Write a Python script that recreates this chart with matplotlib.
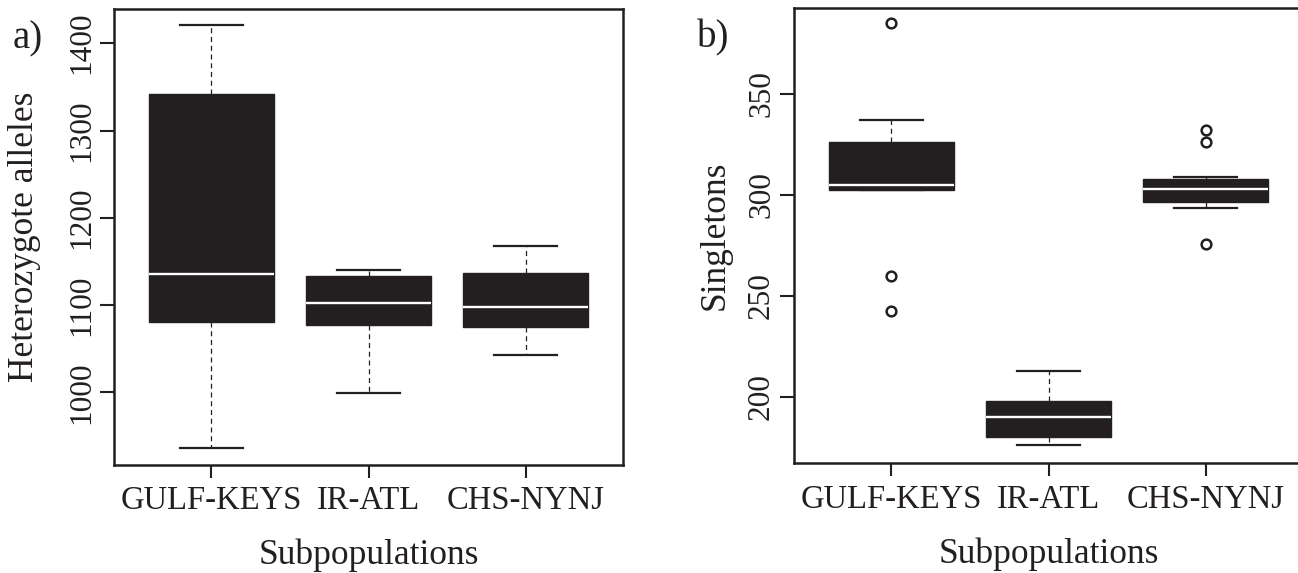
import matplotlib
matplotlib.use("Agg")
import matplotlib.pyplot as plt

plt.rcParams['font.family'] = ['Liberation Serif', 'DejaVu Serif']

groups = ["GULF-KEYS", "IR-ATL", "CHS-NYNJ"]

# a) heterozygote alleles
het_whislo = [936, 999, 1043]
het_q1 = [1081, 1077, 1075]
het_med = [1136, 1103, 1098]
het_q3 = [1342, 1133, 1137]
het_whishi = [1421, 1140, 1168]
het_fliers = [[], [], []]

# b) singletons
sing_whislo = [302.3, 176, 293.5]
sing_q1 = [302.3, 180, 296.6]
sing_med = [305, 190.1, 303]
sing_q3 = [326.2, 198, 307.7]
sing_whishi = [337.3, 212.7, 308.9]
sing_fliers = [[385, 259.7, 242.6], [], [332.2, 326.4, 275.5]]

BOX = '#231f20'


def make_stats(lo, q1, med, q3, hi, fl):
    stats = []
    for i in range(len(groups)):
        stats.append(dict(whislo=lo[i], q1=q1[i], med=med[i], q3=q3[i],
                          whishi=hi[i], fliers=fl[i], label=groups[i]))
    return stats


def draw(ax, stats, ylim, yticks, ylabel, ylab_x):
    ax.bxp(stats, positions=[1, 2, 3], widths=0.8, capwidths=0.4,
           patch_artist=True, showfliers=True,
           boxprops=dict(facecolor=BOX, edgecolor=BOX, linewidth=1.0),
           medianprops=dict(color='white', linewidth=1.7),
           whiskerprops=dict(color=BOX, linewidth=0.9, linestyle=(0, (4, 3))),
           capprops=dict(color=BOX, linewidth=1.6),
           flierprops=dict(marker='o', markerfacecolor='none',
                           markeredgecolor=BOX, markersize=7,
                           markeredgewidth=1.8, linestyle='none'))
    ax.set_xlim(0.38, 3.62)
    ax.set_ylim(*ylim)
    ax.set_yticks(yticks)
    ax.set_yticklabels([str(t) for t in yticks], rotation=90, va='center',
                       fontsize=22.5)
    ax.set_xticks([1, 2, 3])
    ax.set_xticklabels(groups, fontsize=23.5)
    ax.tick_params(axis='y', direction='out', length=10, width=1.5, pad=3,
                   color=BOX, labelcolor=BOX)
    ax.tick_params(axis='x', direction='out', length=9, width=1.5, pad=6,
                   color=BOX, labelcolor=BOX)
    for s in ax.spines.values():
        s.set_linewidth(1.8)
        s.set_color(BOX)
    ax.set_ylabel(ylabel, fontsize=25.5, color=BOX)
    ax.yaxis.set_label_coords(ylab_x, 0.5)
    ax.set_xlabel("Subpopulations", fontsize=25.5, color=BOX)
    ax.xaxis.set_label_coords(0.5, -0.162)


fig = plt.figure(figsize=(12.98, 5.73), dpi=100)
ax1 = fig.add_axes([114 / 1298, 1 - 465 / 573, 509 / 1298, 456 / 573])
ax2 = fig.add_axes([794 / 1298, 1 - 463.3 / 573, 509 / 1298, 455.3 / 573])

draw(ax1, make_stats(het_whislo, het_q1, het_med, het_q3, het_whishi, het_fliers),
     (916.9, 1439.2), [1000, 1100, 1200, 1300, 1400], "Heterozygote alleles", -0.143)
draw(ax2, make_stats(sing_whislo, sing_q1, sing_med, sing_q3, sing_whishi, sing_fliers),
     (167.0, 392.6), [200, 250, 300, 350], "Singletons", -0.122)
# right frame of panel b is cut off by the image edge
ax2.spines['right'].set_visible(False)

fig.text(13 / 1298, 1 - 48 / 573, "a)", fontsize=28, ha='left', va='baseline', color=BOX)
fig.text(697 / 1298, 1 - 47 / 573, "b)", fontsize=28, ha='left', va='baseline', color=BOX)

fig.savefig("out.png", dpi=100)
